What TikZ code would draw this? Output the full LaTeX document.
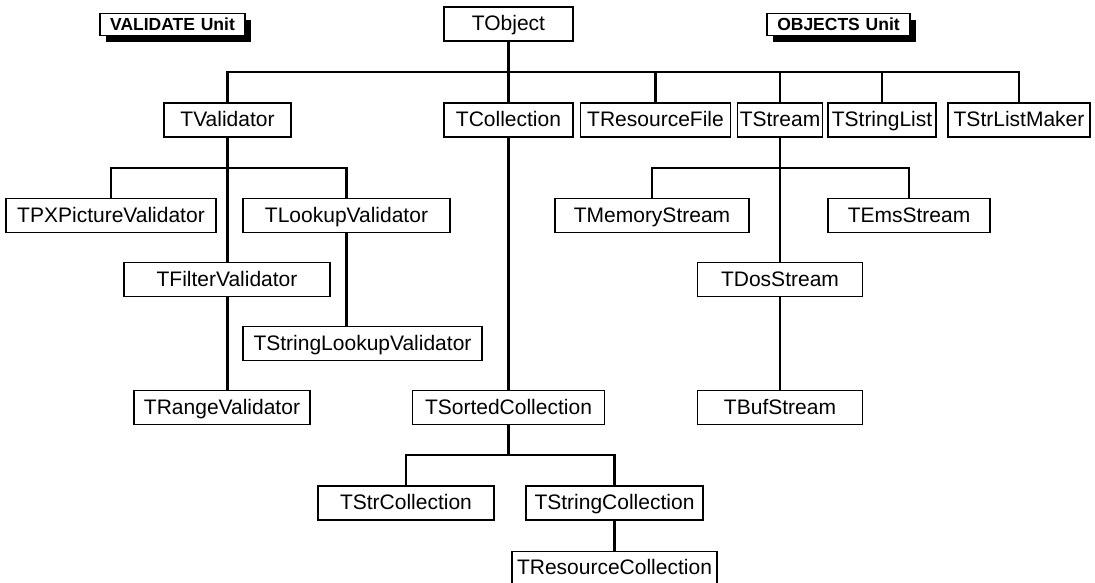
\documentclass[tikz,border=0pt]{standalone}
\usepackage{fontspec}
\setmainfont{Liberation Sans}
\usetikzlibrary{shadows}
\begin{document}
\begin{tikzpicture}[x=1pt,y=-1pt,
  cls/.style={draw=black, line width=1.5pt, fill=white, minimum height=34pt,
    inner xsep=2pt, inner ysep=0pt, text height=16.5pt, text depth=2.7pt,
    font=\fontsize{21}{25}\selectfont, text=black},
  unitlbl/.style={draw=black, line width=1.5pt, fill=white, minimum height=22pt,
    inner xsep=2pt, inner ysep=0pt, text height=14pt, text depth=2pt,
    font=\fontsize{17.5}{20}\selectfont\bfseries,
    drop shadow={shadow xshift=6pt, shadow yshift=-7pt, fill=black, opacity=1}},
  link/.style={line width=2.2pt, draw=black}]
\useasboundingbox (0,0) rectangle (1095,583);

% unit labels
\node[unitlbl, minimum width=145pt] (valunit) at (172.5,24.5) {VALIDATE\,\,Unit};
\node[unitlbl, minimum width=143pt] (objunit) at (838.5,24.5) {OBJECTS\,\,Unit};

% root
\node[cls, minimum width=129pt] (TObject) at (508.5,24) {TObject};

% row 1
\node[cls, minimum width=127pt] (TValidator) at (227.5,120) {TValidator};
\node[cls, minimum width=129pt] (TCollection) at (508.5,120) {TCollection};
\node[cls, minimum width=150pt] (TResourceFile) at (655.5,120) {TResourceFile};
\node[cls, minimum width=85pt] (TStream) at (780,120) {TStream};
\node[cls, minimum width=108pt] (TStringList) at (882,120) {TStringList};
\node[cls, minimum width=142pt] (TStrListMaker) at (1019,120) {TStrListMaker};

% validator subtree
\node[cls, minimum width=210pt] (TPXPictureValidator) at (111,215.5) {TPXPictureValidator};
\node[cls, minimum width=207pt] (TLookupValidator) at (346.5,215.5) {TLookupValidator};
\node[cls, minimum width=206pt] (TFilterValidator) at (227,279.5) {TFilterValidator};
\node[cls, minimum width=239pt] (TStringLookupValidator) at (362.5,343.5) {TStringLookupValidator};
\node[cls, minimum width=176pt] (TRangeValidator) at (222,407.5) {TRangeValidator};

% stream subtree
\node[cls, minimum width=194pt] (TMemoryStream) at (652,215.5) {TMemoryStream};
\node[cls, minimum width=162pt] (TEmsStream) at (909,215.5) {TEmsStream};
\node[cls, minimum width=165pt] (TDosStream) at (780,279.5) {TDosStream};
\node[cls, minimum width=165pt] (TBufStream) at (780,407.5) {TBufStream};

% collection subtree
\node[cls, minimum width=192pt] (TSortedCollection) at (508.5,407.5) {TSortedCollection};
\node[cls, minimum width=176pt] (TStrCollection) at (406,503) {TStrCollection};
\node[cls, minimum width=177pt] (TStringCollection) at (614.5,503) {TStringCollection};
\node[cls, minimum width=205pt, minimum height=32pt] (TResourceCollection) at (614.5,567.5) {TResourceCollection};

% connectors
\coordinate (barY) at (0,72);
\coordinate (vY) at (0,168);
\coordinate (sY) at (0,168);
\coordinate (cY) at (0,455);

\draw[link] (TObject.south) -- (TCollection.north);
\draw[link] (TValidator.north) -- (TValidator.north |- barY) -- (TStrListMaker.north |- barY) -- (TStrListMaker.north);
\foreach \n in {TResourceFile,TStream,TStringList}
  \draw[link] (\n.north) -- (\n.north |- barY);

\draw[link] (TValidator.south) -- (TValidator.south |- TFilterValidator.north);
\draw[link] (TPXPictureValidator.north) -- (TPXPictureValidator.north |- vY) -- (TLookupValidator.north |- vY) -- (TLookupValidator.north);
\draw[link] (TFilterValidator.south -| TValidator.south) -- (TValidator.south |- TRangeValidator.north);
\draw[link] (TLookupValidator.south) -- (TLookupValidator.south |- TStringLookupValidator.north);

\draw[link] (TStream.south) -- (TStream.south |- TDosStream.north);
\draw[link] (TMemoryStream.north) -- (TMemoryStream.north |- sY) -- (TEmsStream.north |- sY) -- (TEmsStream.north);
\draw[link] (TDosStream.south) -- (TBufStream.north);

\draw[link] (TCollection.south) -- (TSortedCollection.north);
\draw[link] (TSortedCollection.south) -- (TSortedCollection.south |- cY);
\draw[link] (TStrCollection.north) -- (TStrCollection.north |- cY) -- (TStringCollection.north |- cY) -- (TStringCollection.north);
\draw[link] (TStringCollection.south) -- (TResourceCollection.north);
\end{tikzpicture}
\end{document}
